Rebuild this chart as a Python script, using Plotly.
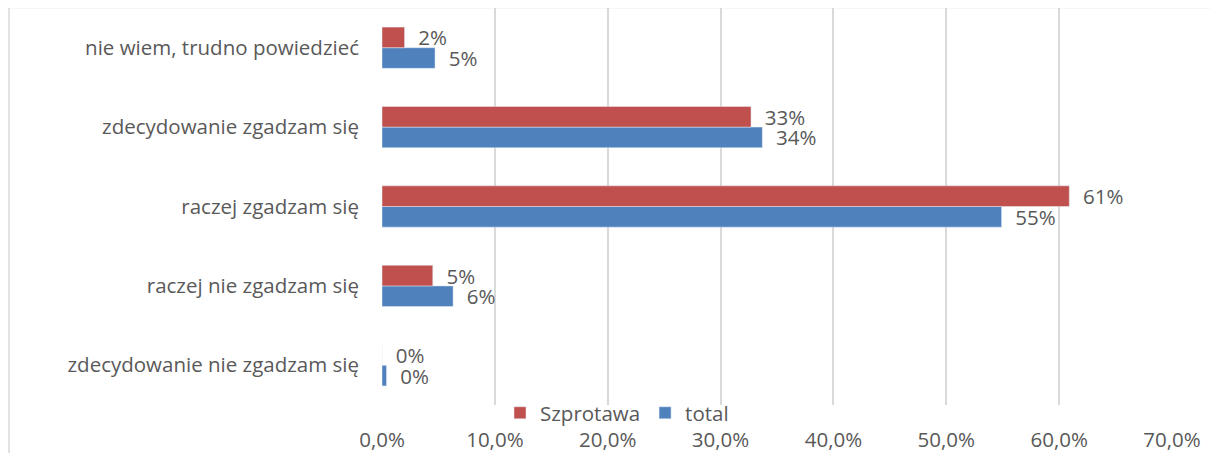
import plotly.graph_objects as go

# Data
categories = ["zdecydowanie nie zgadzam się", "raczej nie zgadzam się", "raczej zgadzam się",
              "zdecydowanie zgadzam się", "nie wiem, trudno powiedzieć"]
szprotawa = [0.0, 0.045, 0.609, 0.327, 0.020]
total = [0.004, 0.063, 0.549, 0.337, 0.047]
tick_vals = [0.0, 0.1, 0.2, 0.3, 0.4, 0.5, 0.6, 0.7]
tick_text = ["0,0%", "10,0%", "20,0%", "30,0%", "40,0%", "50,0%", "60,0%", "70,0%"]

red = "#C0504D"
blue = "#4F81BD"
grey_txt = "#595959"
font_family = "Open Sans"
fs = 20.5

# page body adds an 8px margin, so the figure is 8px smaller than the window
W, H = 1210, 445
ml, mr, mt, mb = 374, 46, 0, 48
pw, ph = W - ml - mr, H - mt - mb

fig = go.Figure()

# total first so that Szprotawa sits on top within each group
fig.add_trace(go.Bar(y=categories, x=total, orientation='h', name='total',
                     marker=dict(color=blue),
                     texttemplate="  %{x:.0%}", textposition='outside', constraintext='none',
                     textfont=dict(color=grey_txt, size=fs), cliponaxis=False))
fig.add_trace(go.Bar(y=categories, x=szprotawa, orientation='h', name='Szprotawa',
                     marker=dict(color=red),
                     texttemplate="  %{x:.0%}", textposition='outside', constraintext='none',
                     textfont=dict(color=grey_txt, size=fs), cliponaxis=False))

fig.update_layout(
    width=W, height=H,
    barmode='group', bargap=0.48, bargroupgap=0,
    plot_bgcolor='white', paper_bgcolor='white',
    font=dict(family=font_family, size=fs, color=grey_txt),
    margin=dict(l=ml, r=mr, t=mt, b=mb),
    showlegend=True,
    legend=dict(orientation='h', x=(609 - ml) / pw, xanchor='center', y=-0.02, yanchor='middle',
                traceorder='reversed', font=dict(size=fs, color=grey_txt),
                bgcolor='rgba(0,0,0,0)'),
    xaxis=dict(range=[0, 0.7], tickvals=tick_vals, ticktext=tick_text, automargin=False,
               showgrid=True, gridcolor='#D9D9D9', gridwidth=1.5,
               zeroline=False, showline=False, ticks='', ticklabelstandoff=20,
               tickfont=dict(size=fs, color=grey_txt)),
    yaxis=dict(showgrid=False, zeroline=False, showline=False, ticks='', automargin=False,
               ticklabelstandoff=22, tickfont=dict(size=fs, color=grey_txt)),
    shapes=[dict(type='rect', xref='paper', yref='paper',
                 x0=(1 - ml) / pw, x1=(1207 - ml) / pw,
                 y0=-0.3, y1=1 + 0.5 / ph,
                 line=dict(color='#D9D9D9', width=1.5), layer='below')],
)

fig.write_html("out.html")
